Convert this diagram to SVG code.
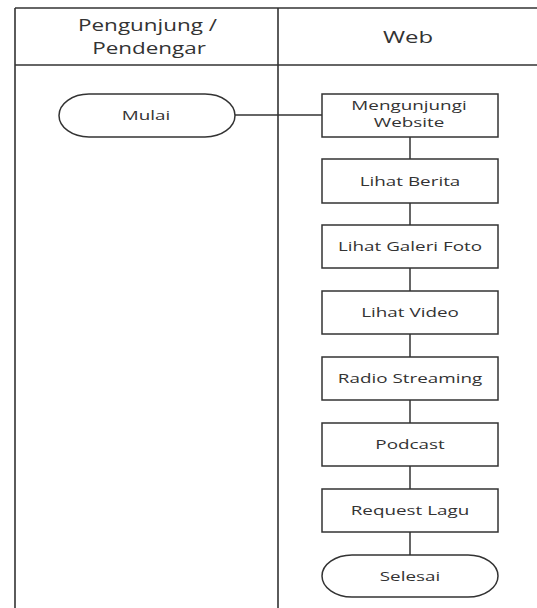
<svg xmlns="http://www.w3.org/2000/svg" width="537" height="608" viewBox="0 0 537 608">
<style>
.bg{fill:#ffffff}
.lane{stroke:#333333;stroke-width:1.6;fill:none}
.box{fill:#ffffff;stroke:#333333;stroke-width:1.5}
.con{stroke:#333333;stroke-width:1.5;fill:none}
.hd{font-family:"Open Sans","Liberation Sans",sans-serif;font-size:16.5px;fill:#333333;text-anchor:middle}
.lb{font-family:"Open Sans","Liberation Sans",sans-serif;font-size:13px;fill:#333333;text-anchor:middle}
</style>
<rect class="bg" x="0" y="0" width="537" height="608"/>
<g id="swimlanes">
<line class="lane" x1="15" y1="8" x2="537" y2="8"/>
<line class="lane" x1="15" y1="8" x2="15" y2="608"/>
<line class="lane" x1="278" y1="8" x2="278" y2="608"/>
<line class="lane" x1="15" y1="65" x2="537" y2="65"/>
<text class="hd" transform="translate(147.5,31) scale(1.36,1)">Pengunjung /</text>
<text class="hd" transform="translate(149,54) scale(1.36,1)">Pendengar</text>
<text class="hd" transform="translate(408,43) scale(1.45,1)">Web</text>
</g>
<g id="connectors">
<line class="con" x1="235" y1="115" x2="322" y2="115"/>
<line class="con" x1="410" y1="137" x2="410" y2="159"/>
<line class="con" x1="410" y1="203" x2="410" y2="225"/>
<line class="con" x1="410" y1="268" x2="410" y2="291"/>
<line class="con" x1="410" y1="334" x2="410" y2="357"/>
<line class="con" x1="410" y1="400" x2="410" y2="423"/>
<line class="con" x1="410" y1="466" x2="410" y2="489"/>
<line class="con" x1="410" y1="532" x2="410" y2="555"/>
</g>
<g id="mulai">
<rect class="box" x="59" y="94" width="176" height="43" rx="30" ry="21.5"/>
<text class="lb" transform="translate(146,119.5) scale(1.45,1)">Mulai</text>
</g>
<g id="mengunjungi">
<rect class="box" x="322" y="94" width="176" height="43"/>
<text class="lb" transform="translate(409,110) scale(1.45,1)">Mengunjungi</text>
<text class="lb" transform="translate(409,127) scale(1.45,1)">Website</text>
</g>
<g id="berita">
<rect class="box" x="322" y="159" width="176" height="44"/>
<text class="lb" transform="translate(410,185.5) scale(1.45,1)">Lihat Berita</text>
</g>
<g id="galeri">
<rect class="box" x="322" y="225" width="176" height="43"/>
<text class="lb" transform="translate(410,251) scale(1.45,1)">Lihat Galeri Foto</text>
</g>
<g id="video">
<rect class="box" x="322" y="291" width="176" height="43"/>
<text class="lb" transform="translate(410,317) scale(1.45,1)">Lihat Video</text>
</g>
<g id="radio">
<rect class="box" x="322" y="357" width="176" height="43"/>
<text class="lb" transform="translate(410,383) scale(1.45,1)">Radio Streaming</text>
</g>
<g id="podcast">
<rect class="box" x="322" y="423" width="176" height="43"/>
<text class="lb" transform="translate(410,449) scale(1.45,1)">Podcast</text>
</g>
<g id="request">
<rect class="box" x="322" y="489" width="176" height="43"/>
<text class="lb" transform="translate(410,515) scale(1.45,1)">Request Lagu</text>
</g>
<g id="selesai">
<rect class="box" x="322" y="555" width="176" height="42" rx="30" ry="21"/>
<text class="lb" transform="translate(410,580.5) scale(1.45,1)">Selesai</text>
</g>
</svg>
